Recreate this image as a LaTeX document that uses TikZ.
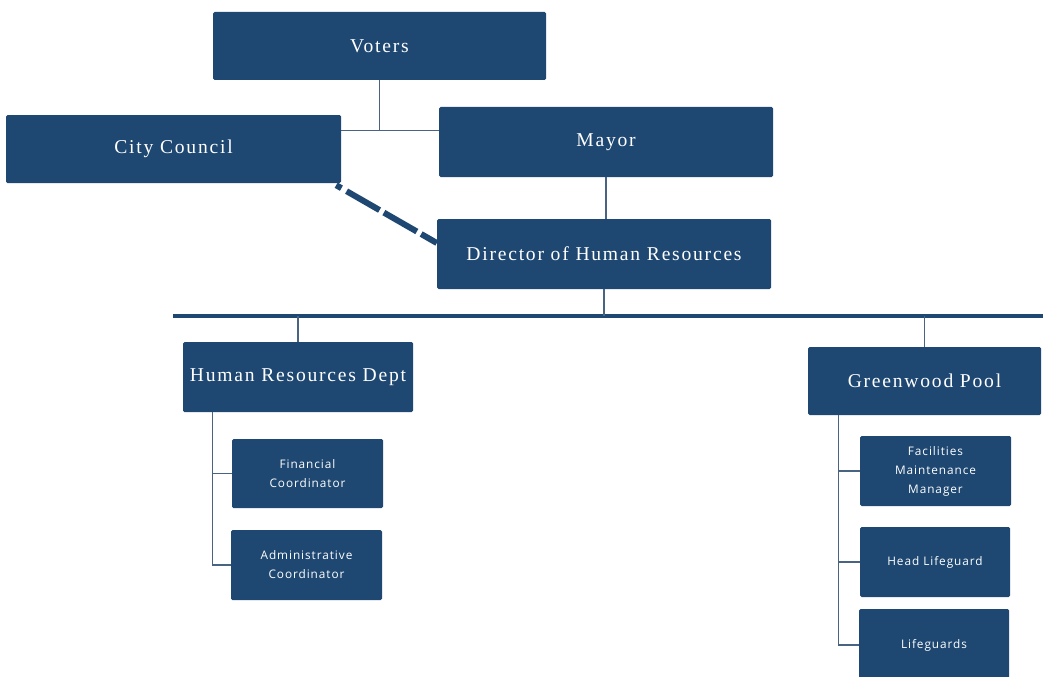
\documentclass[tikz,border=0pt]{standalone}
\usepackage{fontspec}
\newfontfamily\titlefont[LetterSpace=9]{Liberation Serif}
\newfontfamily\smallfont[LetterSpace=8]{Open Sans}
\definecolor{navy}{RGB}{30,72,114}
\definecolor{linkc}{RGB}{72,100,130}
\begin{document}
\begin{tikzpicture}[x=1pt,y=-1pt,
  box/.style={fill=navy, rounded corners=1.5pt, text=white, align=center, inner sep=0pt},
  big/.style={box, font=\titlefont\fontsize{19.6}{22}\selectfont},
  small/.style={box, font=\smallfont\fontsize{11.8}{19}\selectfont},
  link/.style={draw=linkc, line width=1.2pt},
  bar/.style={draw=navy, line width=4pt},
  dotted link/.style={draw=navy, line width=6pt,
    dash pattern=on 6pt off 6pt on 38pt off 5pt on 38pt off 5pt on 40pt off 5pt}]
\useasboundingbox (0,0) rectangle (1045,677);
\fill[white] (0,0) rectangle (1045,677);

% upper levels
\node[big, minimum width=333, minimum height=68] (voters) at (379.5,46) {Voters};
\node[big, minimum width=335, minimum height=68] (cc) at (173.5,149) {City Council};
\node[big, minimum width=334, minimum height=70] (mayor) at (606,142) {Mayor};
\node[big, minimum width=334, minimum height=70] (dir) at (604,254) {Director of Human Resources};

% departments
\node[big, minimum width=230, minimum height=70] (hr) at (298,377) {Human Resources Dept};
\node[big, minimum width=233, minimum height=68] (gp) at (924.5,381) {Greenwood Pool};

% staff
\node[small, minimum width=151, minimum height=69] (fin) at (307.5,473.5) {Financial\\Coordinator};
\node[small, minimum width=151, minimum height=70] (adm) at (306.5,565) {Administrative\\Coordinator};
\node[small, minimum width=151, minimum height=70] (fac) at (935.5,471) {Facilities\\Maintenance\\Manager};
\node[small, minimum width=150, minimum height=70] (head) at (935,562) {Head Lifeguard};
\node[small, minimum width=150, minimum height=72] (lg) at (934,645) {Lifeguards};

% connectors
\draw[link] (voters.south) -- ++(0,50) coordinate (vj);
\draw[link] (cc.east |- vj) -- (mayor.west |- vj);
\draw[link] (mayor.south) -- (mayor.south |- dir.north);
\draw[dotted link] ([xshift=-5pt,yshift=-2pt]cc.south east) -- ([yshift=11pt]dir.west);

\coordinate (barL) at (173,316);
\coordinate (barR) at (1043,316);
\draw[bar] (barL) -- (barR);
\draw[link] (dir.south) -- (dir.south |- barL);
\draw[link] (hr.north) -- (hr.north |- barL);
\draw[link] (gp.north) -- (gp.north |- barL);

\draw[link] ([xshift=30pt]hr.south west) |- (adm.west);
\draw[link] ([xshift=30pt]hr.south west |- fin.west) -- (fin.west);
\draw[link] ([xshift=31pt]gp.south west) |- (lg.west);
\draw[link] ([xshift=31pt]gp.south west |- fac.west) -- (fac.west);
\draw[link] ([xshift=31pt]gp.south west |- head.west) -- (head.west);
\end{tikzpicture}
\end{document}
